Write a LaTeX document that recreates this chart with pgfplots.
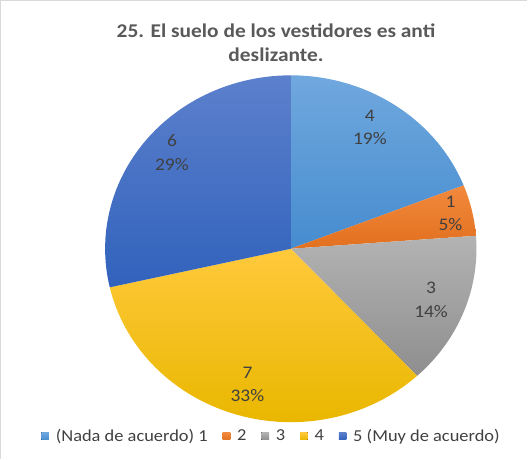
\documentclass[border=0pt]{standalone}
\usepackage{pgfplots}
\pgfplotsset{compat=1.18}
\usepackage{fontspec}
\setmainfont{Carlito}[FakeStretch=1.1]
\definecolor{cA}{HTML}{5B9BD5}
\definecolor{cAt}{HTML}{70A8DE}
\definecolor{cAb}{HTML}{468CCF}
\definecolor{cB}{HTML}{ED7D31}
\definecolor{cBt}{HTML}{F2893D}
\definecolor{cBb}{HTML}{E2701F}
\definecolor{cC}{HTML}{A5A5A5}
\definecolor{cCt}{HTML}{B3B3B3}
\definecolor{cCb}{HTML}{8E8E8E}
\definecolor{cD}{HTML}{FFC000}
\definecolor{cDt}{HTML}{FFC93C}
\definecolor{cDb}{HTML}{E9B700}
\definecolor{cE}{HTML}{4472C4}
\definecolor{cEt}{HTML}{5C80CC}
\definecolor{cEb}{HTML}{3162BC}
\definecolor{txt}{HTML}{404040}
\definecolor{ttl}{HTML}{595959}
\definecolor{frm}{HTML}{D9D9D9}
% values: 1 -> 4, 2 -> 1, 3 -> 3, 4 -> 7, 5 -> 6 (total 21)
\pgfmathsetmacro\tot{4+1+3+7+6}
\pgfmathsetmacro\aA{90}
\pgfmathsetmacro\aB{\aA-4/\tot*360}
\pgfmathsetmacro\aC{\aB-1/\tot*360}
\pgfmathsetmacro\aD{\aC-3/\tot*360}
\pgfmathsetmacro\aE{\aD-7/\tot*360}
\pgfmathsetmacro\aF{\aE-6/\tot*360}
\def\cx{295.5}\def\cy{205.7}\def\rx{182}\def\ry{170}
\begin{document}
\begin{tikzpicture}
\begin{axis}[
  scale only axis, width=396pt, height=344.25pt,
  xmin=0, xmax=528, ymin=0, ymax=459,
  axis lines=none, ticks=none, clip=false,
  legend columns=5,
  legend style={draw=none, fill=none, at={(axis cs:277,22)}, anchor=center,
    font=\fontsize{12.3}{14}\selectfont\color{txt},
    /tikz/every odd column/.append style={column sep=3pt},
    /tikz/every even column/.append style={column sep=9pt}},
  legend image code/.code={\fill[#1] (0pt,-2.8pt) rectangle (5.6pt,2.8pt);},
]
\draw[frm, line width=0.8pt] (axis cs:11,0) -- (axis cs:11,449) -- (axis cs:527.5,449);
\addplot[top color=cAt, bottom color=cAb, draw=none, domain=\aB:\aA, samples=80, variable=\t]
  ({\cx+\rx*cos(t)},{\cy+\ry*sin(t)}) -- (axis cs:\cx,\cy) -- cycle;
\addlegendentry{(Nada de acuerdo) 1}
\addplot[top color=cBt, bottom color=cBb, draw=none, domain=\aC:\aB, samples=30, variable=\t]
  ({\cx+\rx*cos(t)},{\cy+\ry*sin(t)}) -- (axis cs:\cx,\cy) -- cycle;
\addlegendentry{2}
\addplot[top color=cCt, bottom color=cCb, draw=none, domain=\aD:\aC, samples=60, variable=\t]
  ({\cx+\rx*cos(t)},{\cy+\ry*sin(t)}) -- (axis cs:\cx,\cy) -- cycle;
\addlegendentry{3}
\addplot[top color=cDt, bottom color=cDb, draw=none, domain=\aE:\aD, samples=100, variable=\t]
  ({\cx+\rx*cos(t)},{\cy+\ry*sin(t)}) -- (axis cs:\cx,\cy) -- cycle;
\addlegendentry{4}
\addplot[top color=cEt, bottom color=cEb, draw=none, domain=\aF:\aE, samples=100, variable=\t]
  ({\cx+\rx*cos(t)},{\cy+\ry*sin(t)}) -- (axis cs:\cx,\cy) -- cycle;
\addlegendentry{5 (Muy de acuerdo)}
\begin{scope}[every node/.style={font=\fontsize{13}{17.25}\selectfont, text=txt, align=center}]
\node at (axis cs:373,324.5) {4\\19\%};
\node at (axis cs:452,240.5) {1\\5\%};
\node at (axis cs:433,155.5) {3\\14\%};
\node at (axis cs:253,72.5) {7\\33\%};
\node at (axis cs:179,300) {6\\29\%};
\end{scope}
\node[font=\bfseries\fontsize{14.3}{17.3}\selectfont, text=ttl, align=center] at (axis cs:281,407.5)
  {25. El suelo de los vestidores es anti\\deslizante.};
\end{axis}
\end{tikzpicture}
\end{document}
